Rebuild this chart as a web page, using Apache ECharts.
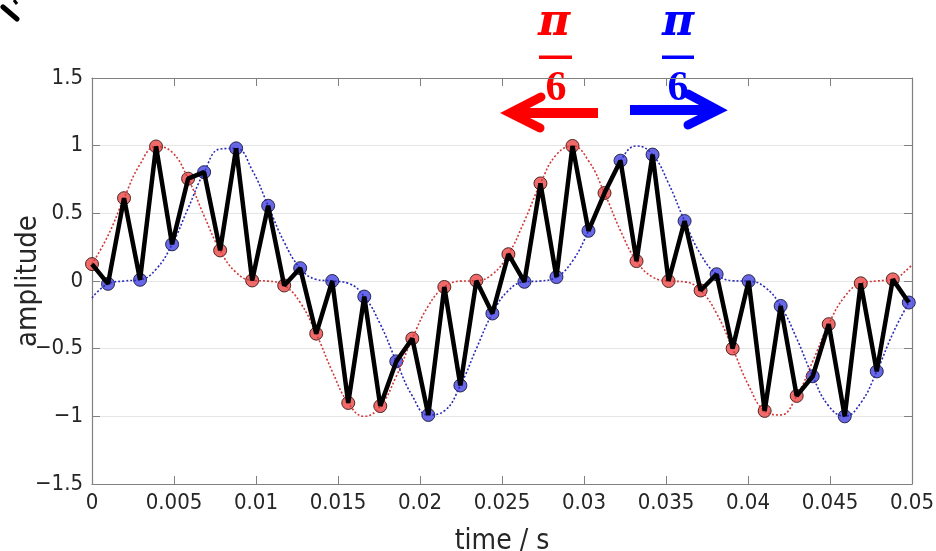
<!DOCTYPE html>
<html lang="en">
<head>
<meta charset="UTF-8">
<title>sampled signals</title>
<script src="https://cdn.jsdelivr.net/npm/echarts@6.0.0/dist/echarts.min.js"></script>
<style>
    html, body { margin: 0; padding: 0; background: #fff; }
    #main { width: 936px; height: 551px; }
</style>
</head>
<body>
<div id="main"></div>
<script>
    // sample instants (s), one sample every ~0.98 ms
    const times = [0, 0.000977, 0.001953, 0.00293, 0.003906, 0.004883, 0.005859, 0.006836, 0.007813, 0.008789,
        0.009766, 0.010742, 0.011719, 0.012695, 0.013672, 0.014648, 0.015625, 0.016602, 0.017578, 0.018555,
        0.019531, 0.020508, 0.021484, 0.022461, 0.023438, 0.024414, 0.025391, 0.026367, 0.027344, 0.02832,
        0.029297, 0.030273, 0.03125, 0.032227, 0.033203, 0.03418, 0.035156, 0.036133, 0.037109, 0.038086,
        0.039063, 0.040039, 0.041016, 0.041992, 0.042969, 0.043945, 0.044922, 0.045898, 0.046875, 0.047852,
        0.048828, 0.049805];
    const endTime = 0.05;

    // red dotted curve (+pi/6) at each instant, plus the value at endTime
    const redCurve = [0.125, 0.336, 0.612, 0.863, 0.994, 0.952, 0.756, 0.481, 0.226, 0.063,
        0.004, -0.001, -0.033, -0.159, -0.389, -0.668, -0.901, -1.000, -0.924, -0.704,
        -0.425, -0.184, -0.044, -0.001, 0.002, 0.050, 0.198, 0.443, 0.721, 0.934,
        0.998, 0.889, 0.650, 0.371, 0.147, 0.029, 0.000, -0.006, -0.070, -0.240,
        -0.499, -0.772, -0.960, -0.990, -0.849, -0.594, -0.319, -0.115, -0.017, 0.000,
        0.012, 0.095, 0.125];

    // blue dotted curve (-pi/6)
    const blueCurve = [-0.125, -0.021, 0.000, 0.009, 0.087, 0.271, 0.537, 0.804, 0.975, 0.980,
        0.820, 0.556, 0.287, 0.095, 0.012, 0.000, -0.017, -0.115, -0.319, -0.594,
        -0.849, -0.990, -0.960, -0.772, -0.499, -0.240, -0.070, -0.006, 0.000, 0.029,
        0.147, 0.371, 0.650, 0.889, 0.998, 0.934, 0.721, 0.443, 0.198, 0.050,
        0.002, -0.001, -0.044, -0.184, -0.425, -0.704, -0.924, -1.000, -0.901, -0.668,
        -0.389, -0.159, -0.125];

    const xTickLabels = ['0', '0.005', '0.01', '0.015', '0.02', '0.025', '0.03', '0.035', '0.04', '0.045', '0.05'];
    const yTickLabels = ['\u22121.5', '\u22121', '\u22120.5', '0', '0.5', '1', '1.5'];

    const FONT = "'Liberation Sans Narrow', 'DejaVu Sans Condensed', sans-serif";
    const AXIS_COLOR = '#808080';
    const TEXT_COLOR = '#262626';

    const chart = echarts.init(document.getElementById('main'));

    const curveTimes = times.concat([endTime]);
    const redLine = curveTimes.map((t, i) => [t, redCurve[i]]);
    const blueLine = curveTimes.map((t, i) => [t, blueCurve[i]]);
    // even samples are taken from the red signal, odd ones from the blue one
    const samples = times.map((t, i) => [t, i % 2 === 0 ? redCurve[i] : blueCurve[i]]);
    const redSamples = samples.filter((p, i) => i % 2 === 0);
    const blueSamples = samples.filter((p, i) => i % 2 === 1);

    function xAxisOf(pos, withLabels) {
        return {
            type: 'value', min: 0, max: 0.05, interval: 0.005, position: pos,
            name: withLabels ? 'time / s' : '',
            nameLocation: 'middle', nameGap: 44, nameMoveOverlap: false,
            nameTextStyle: { fontFamily: FONT, fontSize: 28, color: TEXT_COLOR },
            axisLine: { show: true, onZero: false, lineStyle: { color: AXIS_COLOR, width: 1.2 } },
            axisTick: { show: true, inside: true, length: 8, lineStyle: { color: AXIS_COLOR } },
            axisLabel: {
                show: withLabels, margin: 8, fontFamily: FONT, fontSize: 22, color: TEXT_COLOR,
                formatter: v => xTickLabels[Math.round(v / 0.005)]
            },
            splitLine: { show: false }
        };
    }

    function yAxisOf(pos, withLabels) {
        return {
            type: 'value', min: -1.5, max: 1.5, interval: 0.5, position: pos,
            name: withLabels ? 'amplitude' : '',
            nameLocation: 'middle', nameGap: 64, nameMoveOverlap: false,
            nameTextStyle: { fontFamily: FONT, fontSize: 29, color: TEXT_COLOR, verticalAlign: 'middle' },
            axisLine: { show: true, onZero: false, lineStyle: { color: AXIS_COLOR, width: 1.2 } },
            axisTick: { show: true, inside: true, length: 8, lineStyle: { color: AXIS_COLOR } },
            axisLabel: {
                show: withLabels, margin: 9, fontFamily: FONT, fontSize: 22, color: TEXT_COLOR,
                formatter: v => yTickLabels[Math.round((v + 1.5) / 0.5)]
            },
            splitLine: { show: withLabels, lineStyle: { color: '#e6e6e6', width: 1 } }
        };
    }

    const option = {
        animation: false,
        grid: { left: 92, right: 24, top: 78, bottom: 67, outerBoundsMode: 'none' },
        xAxis: [xAxisOf('bottom', true), xAxisOf('top', false)],
        yAxis: [yAxisOf('left', true), yAxisOf('right', false)],
        series: [
            {
                type: 'line', data: redLine, smooth: 0.45, showSymbol: false,
                lineStyle: { color: '#d03a3a', width: 1.6, type: [2, 2] }
            },
            {
                type: 'line', data: blueLine, smooth: 0.45, showSymbol: false,
                lineStyle: { color: '#2a2ab8', width: 1.6, type: [2, 2] }
            },
            {
                type: 'line', data: samples, showSymbol: false,
                lineStyle: { color: '#000', width: 4.5 }
            },
            {
                type: 'scatter', data: redSamples, symbolSize: 13,
                itemStyle: { color: '#ee5a5a', borderColor: '#3a1a1a', borderWidth: 1, opacity: 0.9 }
            },
            {
                type: 'scatter', data: blueSamples, symbolSize: 13,
                itemStyle: { color: '#5656e6', borderColor: '#1a1a3a', borderWidth: 1, opacity: 0.9 }
            }
        ],
        graphic: [
            // cut-off glyph at the top-left corner
            { type: 'line', shape: { x1: 3, y1: 7, x2: 17, y2: 19 }, style: { stroke: '#000', lineWidth: 5, lineCap: 'round' } },
            { type: 'line', shape: { x1: 14, y1: 0, x2: 17, y2: 4 }, style: { stroke: '#000', lineWidth: 3 } },

            // red pi/6 with left arrow
            { type: 'text', style: { x: 554, y: 24, text: '\u03c0', font: 'italic bold 44px "DejaVu Serif"', fill: '#ff0000', align: 'center', verticalAlign: 'middle' } },
            { type: 'rect', shape: { x: 539, y: 55.5, width: 33, height: 3.5 }, style: { fill: '#ff0000' } },
            { type: 'text', style: { x: 556, y: 89, text: '6', font: 'bold 42px "Liberation Serif"', fill: '#ff0000', align: 'center', verticalAlign: 'middle' } },
            { type: 'line', shape: { x1: 598, y1: 113, x2: 514, y2: 113 }, style: { stroke: '#ff0000', lineWidth: 10, lineCap: 'butt' } },
            { type: 'polyline', shape: { points: [[541, 97], [510, 113], [540, 128]] }, style: { stroke: '#ff0000', lineWidth: 9, lineCap: 'round', lineJoin: 'miter', fill: null } },

            // blue pi/6 with right arrow
            { type: 'text', style: { x: 678, y: 24, text: '\u03c0', font: 'italic bold 44px "DejaVu Serif"', fill: '#0000ff', align: 'center', verticalAlign: 'middle' } },
            { type: 'rect', shape: { x: 662, y: 55.5, width: 32, height: 3.5 }, style: { fill: '#0000ff' } },
            { type: 'text', style: { x: 678, y: 89, text: '6', font: 'bold 42px "Liberation Serif"', fill: '#0000ff', align: 'center', verticalAlign: 'middle' } },
            { type: 'line', shape: { x1: 630, y1: 110, x2: 714, y2: 110 }, style: { stroke: '#0000ff', lineWidth: 10, lineCap: 'butt' } },
            { type: 'polyline', shape: { points: [[688, 94], [718, 110], [688, 125]] }, style: { stroke: '#0000ff', lineWidth: 9, lineCap: 'round', lineJoin: 'miter', fill: null } }
        ]
    };

    chart.setOption(option);
</script>
</body>
</html>
